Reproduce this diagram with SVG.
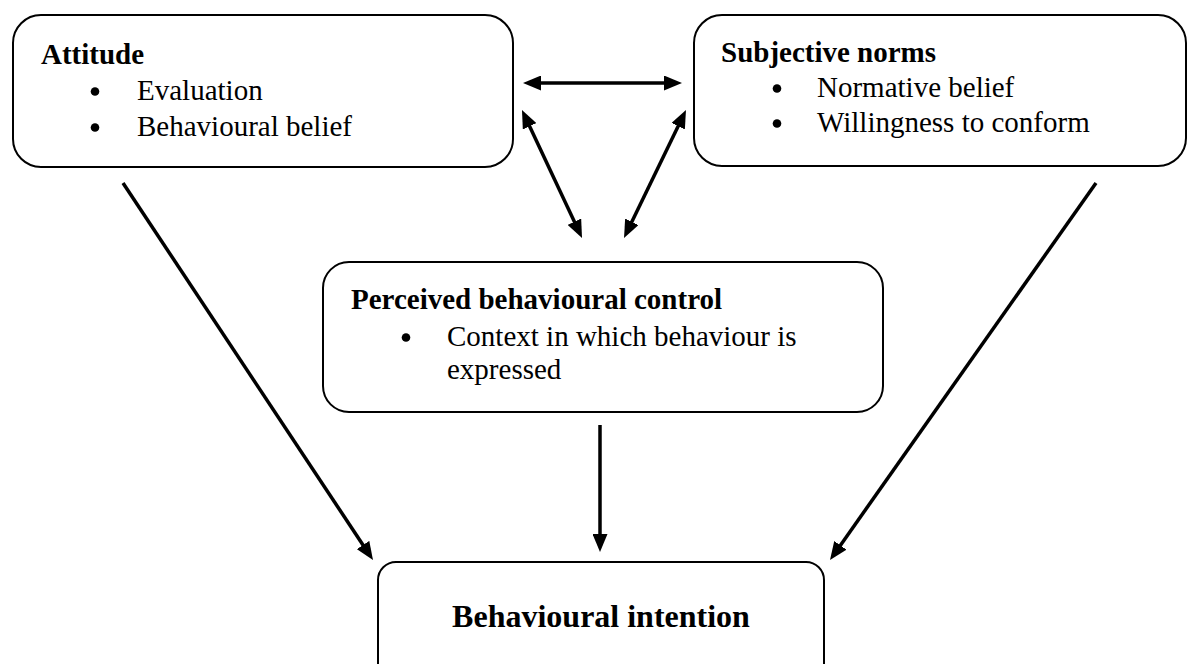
<svg xmlns="http://www.w3.org/2000/svg" width="1197" height="664" viewBox="0 0 1197 664">
  <style>
    .box { fill: #ffffff; stroke: #000000; stroke-width: 2; }
    .t { font-family: "Liberation Serif", "Times New Roman", serif; font-size: 29px; fill: #000000; }
    .b { font-weight: bold; }
    .dot { fill: #000000; }
    .bi { font-family: "Liberation Serif", "Times New Roman", serif; font-size: 32px; font-weight: bold; fill: #000000; }
    .conn { stroke: #000000; stroke-width: 3.5; fill: none; }
  </style>
  <defs>
    <marker id="ah" markerUnits="userSpaceOnUse" markerWidth="18" markerHeight="15" refX="5" refY="7.5" orient="auto-start-reverse">
      <path d="M0,0 L18,7.5 L0,15 z" fill="#000000"/>
    </marker>
  </defs>
  <rect width="1197" height="664" fill="#ffffff"/>

  <g id="attitude">
    <rect class="box" x="13" y="15" width="500" height="152" rx="28" ry="28"/>
    <text class="t b" x="41" y="64">Attitude</text>
    <circle class="dot" cx="95" cy="91.5" r="4.3"/>
    <text class="t" x="137" y="100">Evaluation</text>
    <circle class="dot" cx="95" cy="127.5" r="4.3"/>
    <text class="t" x="137" y="136">Behavioural belief</text>
  </g>

  <g id="subjective-norms">
    <rect class="box" x="694" y="15" width="492" height="151" rx="28" ry="28"/>
    <text class="t b" x="721" y="62">Subjective norms</text>
    <circle class="dot" cx="777" cy="88.5" r="4.3"/>
    <text class="t" x="817" y="97">Normative belief</text>
    <circle class="dot" cx="777" cy="123.5" r="4.3"/>
    <text class="t" x="817" y="132">Willingness to conform</text>
  </g>

  <g id="perceived-control">
    <rect class="box" x="323" y="262" width="560" height="150" rx="26" ry="26"/>
    <text class="t b" x="351" y="309">Perceived behavioural control</text>
    <circle class="dot" cx="406" cy="337.5" r="4.3"/>
    <text class="t" x="447" y="346">Context in which behaviour is</text>
    <text class="t" x="447" y="379">expressed</text>
  </g>

  <g id="behavioural-intention">
    <rect class="box" x="378" y="562" width="446" height="120" rx="18" ry="18"/>
    <text class="bi" x="601" y="627" text-anchor="middle">Behavioural intention</text>
  </g>

  <g id="connectors">
    <line class="conn" x1="536" y1="83" x2="669" y2="83" marker-start="url(#ah)" marker-end="url(#ah)"/>
    <line class="conn" x1="527.5" y1="121.8" x2="576.5" y2="226.2" marker-start="url(#ah)" marker-end="url(#ah)"/>
    <line class="conn" x1="680.3" y1="121.7" x2="629.7" y2="226.3" marker-start="url(#ah)" marker-end="url(#ah)"/>
    <line class="conn" x1="123" y1="183" x2="365.8" y2="549.2" marker-end="url(#ah)"/>
    <line class="conn" x1="1096" y1="183" x2="837.5" y2="549.4" marker-end="url(#ah)"/>
    <line class="conn" x1="600" y1="425" x2="600" y2="539" marker-end="url(#ah)"/>
  </g>
</svg>
